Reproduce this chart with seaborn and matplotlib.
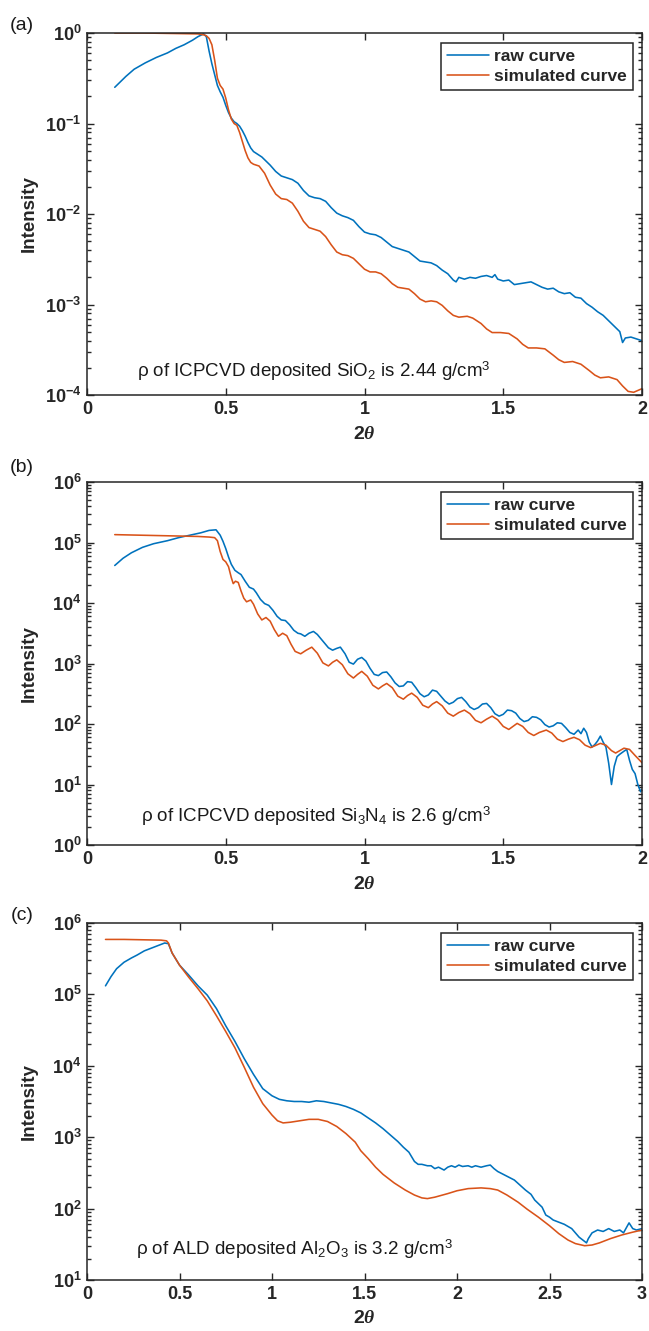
import matplotlib
matplotlib.use("Agg")
import matplotlib.pyplot as plt
from matplotlib.ticker import FixedLocator, FuncFormatter, LogLocator, NullFormatter
import numpy as np
import pandas as pd
import seaborn as sns

# ---- data (2theta, log10 intensity) ----
# (a) ICPCVD SiO2
a_raw_x = [0.10, 0.12, 0.14, 0.17, 0.21, 0.25, 0.29, 0.32, 0.35, 0.38, 0.40, 0.42, 0.43, 0.44,
           0.45, 0.46, 0.47, 0.48, 0.49, 0.50, 0.51, 0.52, 0.53, 0.54, 0.55, 0.56, 0.57, 0.58,
           0.59, 0.60, 0.61, 0.62, 0.63, 0.64, 0.66, 0.68, 0.70, 0.72, 0.74, 0.76, 0.78, 0.80,
           0.82, 0.84, 0.86, 0.88, 0.90, 0.92, 0.94, 0.96, 0.98, 1.00, 1.02, 1.04, 1.06, 1.08,
           1.10, 1.12, 1.14, 1.16, 1.18, 1.20, 1.22, 1.24, 1.26, 1.28, 1.30, 1.32, 1.33, 1.34,
           1.36, 1.38, 1.40, 1.42, 1.44, 1.46, 1.47, 1.48, 1.50, 1.52, 1.54, 1.56, 1.58, 1.60,
           1.62, 1.64, 1.66, 1.68, 1.70, 1.72, 1.74, 1.76, 1.78, 1.80, 1.82, 1.84, 1.86, 1.88,
           1.90, 1.92, 1.93, 1.94, 1.96, 1.98, 2.00]
a_raw_log = [-0.60, -0.54, -0.48, -0.40, -0.33, -0.27, -0.22, -0.17, -0.13, -0.08, -0.04, -0.01, -0.04, -0.20,
             -0.34, -0.46, -0.58, -0.65, -0.71, -0.80, -0.88, -0.94, -0.98, -1.00, -1.03, -1.08, -1.14, -1.21,
             -1.27, -1.31, -1.33, -1.35, -1.37, -1.40, -1.46, -1.53, -1.58, -1.60, -1.62, -1.66, -1.74, -1.80,
             -1.82, -1.83, -1.86, -1.93, -1.99, -2.02, -2.04, -2.07, -2.14, -2.20, -2.22, -2.23, -2.26, -2.31,
             -2.36, -2.38, -2.40, -2.42, -2.47, -2.52, -2.53, -2.54, -2.57, -2.62, -2.66, -2.73, -2.75, -2.70,
             -2.72, -2.70, -2.71, -2.69, -2.68, -2.70, -2.67, -2.72, -2.74, -2.73, -2.78, -2.77, -2.76, -2.75,
             -2.78, -2.81, -2.83, -2.82, -2.86, -2.88, -2.87, -2.92, -2.93, -2.99, -3.03, -3.08, -3.12, -3.18,
             -3.24, -3.30, -3.42, -3.37, -3.36, -3.38, -3.40]
a_sim_x = [0.10, 0.20, 0.30, 0.40, 0.42, 0.43, 0.44, 0.45, 0.46, 0.47, 0.48, 0.49, 0.50, 0.51,
           0.52, 0.53, 0.54, 0.55, 0.56, 0.57, 0.58, 0.59, 0.60, 0.61, 0.62, 0.64, 0.66, 0.68,
           0.70, 0.72, 0.74, 0.76, 0.78, 0.80, 0.82, 0.84, 0.86, 0.88, 0.90, 0.92, 0.94, 0.96,
           0.98, 1.00, 1.02, 1.04, 1.06, 1.08, 1.10, 1.12, 1.14, 1.16, 1.18, 1.20, 1.22, 1.24,
           1.26, 1.28, 1.30, 1.32, 1.34, 1.37, 1.39, 1.42, 1.44, 1.46, 1.49, 1.52, 1.55, 1.57,
           1.59, 1.62, 1.65, 1.68, 1.70, 1.72, 1.75, 1.78, 1.81, 1.83, 1.85, 1.88, 1.91, 1.93,
           1.95, 1.97, 2.00]
a_sim_log = [0.00, 0.00, -0.005, -0.01, -0.02, -0.03, -0.06, -0.13, -0.30, -0.50, -0.58, -0.62, -0.72, -0.85,
             -0.95, -1.00, -1.02, -1.10, -1.20, -1.30, -1.38, -1.43, -1.45, -1.46, -1.47, -1.55, -1.68, -1.78,
             -1.83, -1.84, -1.88, -1.97, -2.08, -2.15, -2.17, -2.19, -2.25, -2.34, -2.42, -2.45, -2.46, -2.49,
             -2.55, -2.61, -2.64, -2.64, -2.66, -2.71, -2.77, -2.81, -2.82, -2.83, -2.88, -2.94, -2.97, -2.96,
             -2.97, -3.01, -3.07, -3.12, -3.14, -3.13, -3.15, -3.21, -3.27, -3.31, -3.31, -3.32, -3.38, -3.44,
             -3.48, -3.48, -3.49, -3.56, -3.61, -3.64, -3.63, -3.66, -3.73, -3.78, -3.81, -3.80, -3.83, -3.90,
             -3.96, -3.97, -3.93]

# (b) ICPCVD Si3N4
b_raw_x = [0.10, 0.13, 0.16, 0.20, 0.24, 0.29, 0.33, 0.37, 0.41, 0.44, 0.465, 0.48, 0.49, 0.50,
           0.51, 0.52, 0.533, 0.545, 0.555, 0.57, 0.585, 0.60, 0.61, 0.625, 0.64, 0.655, 0.67, 0.685,
           0.70, 0.715, 0.73, 0.745, 0.76, 0.77, 0.785, 0.80, 0.816, 0.83, 0.85, 0.87, 0.885, 0.90,
           0.913, 0.93, 0.945, 0.96, 0.975, 0.99, 1.005, 1.02, 1.035, 1.05, 1.065, 1.08, 1.095, 1.11,
           1.125, 1.14, 1.155, 1.17, 1.185, 1.20, 1.215, 1.23, 1.245, 1.26, 1.275, 1.29, 1.305, 1.32,
           1.335, 1.35, 1.365, 1.38, 1.395, 1.41, 1.425, 1.44, 1.455, 1.47, 1.485, 1.50, 1.515, 1.53,
           1.545, 1.56, 1.575, 1.59, 1.605, 1.62, 1.635, 1.65, 1.665, 1.68, 1.695, 1.71, 1.725, 1.74,
           1.755, 1.77, 1.78, 1.79, 1.80, 1.81, 1.82, 1.83, 1.84, 1.85, 1.86, 1.87, 1.88, 1.89,
           1.90, 1.91, 1.92, 1.935, 1.945, 1.955, 1.965, 1.975, 1.985, 1.995, 2.00]
b_raw_log = [4.62, 4.74, 4.83, 4.92, 4.98, 5.03, 5.08, 5.12, 5.16, 5.20, 5.21, 5.12, 5.02, 4.90,
             4.76, 4.64, 4.54, 4.50, 4.47, 4.36, 4.26, 4.23, 4.17, 4.06, 3.99, 3.96, 3.88, 3.78,
             3.72, 3.71, 3.64, 3.55, 3.50, 3.49, 3.45, 3.50, 3.53, 3.48, 3.37, 3.26, 3.22, 3.25,
             3.27, 3.16, 3.02, 2.99, 3.07, 3.10, 3.04, 2.92, 2.82, 2.80, 2.85, 2.86, 2.78, 2.68,
             2.62, 2.63, 2.70, 2.69, 2.60, 2.50, 2.45, 2.48, 2.56, 2.54, 2.46, 2.38, 2.33, 2.36,
             2.42, 2.44, 2.37, 2.28, 2.24, 2.27, 2.33, 2.34, 2.27, 2.17, 2.13, 2.16, 2.23, 2.22,
             2.18, 2.09, 2.04, 2.06, 2.12, 2.11, 2.07, 1.99, 1.95, 1.97, 2.02, 2.01, 1.94, 1.86,
             1.83, 1.90, 1.84, 1.93, 1.86, 1.70, 1.62, 1.66, 1.72, 1.80, 1.70, 1.62, 1.35, 1.00,
             1.30, 1.46, 1.50, 1.55, 1.58, 1.40, 1.25, 1.18, 1.00, 0.88, 0.92]
b_sim_x = [0.10, 0.20, 0.30, 0.40, 0.44, 0.46, 0.47, 0.48, 0.49, 0.50, 0.51, 0.52, 0.527, 0.535,
           0.545, 0.555, 0.565, 0.575, 0.59, 0.60, 0.615, 0.63, 0.645, 0.66, 0.675, 0.69, 0.705, 0.72,
           0.735, 0.75, 0.77, 0.79, 0.81, 0.83, 0.85, 0.87, 0.885, 0.90, 0.92, 0.94, 0.96, 0.975,
           0.99, 1.01, 1.03, 1.05, 1.065, 1.08, 1.10, 1.12, 1.14, 1.155, 1.17, 1.19, 1.21, 1.23,
           1.245, 1.26, 1.28, 1.30, 1.32, 1.34, 1.36, 1.38, 1.40, 1.42, 1.44, 1.46, 1.48, 1.50,
           1.52, 1.535, 1.55, 1.57, 1.59, 1.61, 1.63, 1.655, 1.675, 1.695, 1.715, 1.735, 1.755, 1.775,
           1.795, 1.815, 1.83, 1.85, 1.87, 1.89, 1.905, 1.92, 1.935, 1.955, 1.975, 2.00]
b_sim_log = [5.13, 5.12, 5.11, 5.10, 5.09, 5.08, 5.03, 4.85, 4.72, 4.68, 4.60, 4.42, 4.32, 4.36,
             4.34, 4.20, 4.08, 4.02, 4.05, 3.98, 3.82, 3.72, 3.76, 3.70, 3.56, 3.45, 3.50, 3.46,
             3.32, 3.20, 3.16, 3.22, 3.27, 3.17, 3.01, 2.96, 3.02, 3.06, 2.98, 2.83, 2.76, 2.82,
             2.87, 2.79, 2.64, 2.58, 2.63, 2.67, 2.60, 2.46, 2.41, 2.47, 2.51, 2.44, 2.31, 2.27,
             2.33, 2.37, 2.30, 2.18, 2.13, 2.19, 2.23, 2.17, 2.06, 2.02, 2.08, 2.13, 2.07, 1.96,
             1.91, 1.96, 2.01, 1.96, 1.86, 1.81, 1.86, 1.90, 1.85, 1.75, 1.71, 1.75, 1.78, 1.74,
             1.65, 1.61, 1.64, 1.68, 1.65, 1.56, 1.52, 1.56, 1.60, 1.58, 1.48, 1.36]

# (c) ALD Al2O3
c_raw_x = [0.10, 0.13, 0.16, 0.20, 0.24, 0.27, 0.31, 0.36, 0.40, 0.42, 0.44, 0.46, 0.50, 0.55,
           0.60, 0.65, 0.70, 0.75, 0.80, 0.85, 0.90, 0.95, 1.00, 1.04, 1.08, 1.12, 1.16, 1.20,
           1.24, 1.28, 1.32, 1.36, 1.40, 1.44, 1.48, 1.52, 1.56, 1.60, 1.64, 1.68, 1.71, 1.74,
           1.77, 1.79, 1.81, 1.84, 1.86, 1.88, 1.90, 1.93, 1.95, 1.97, 1.99, 2.01, 2.03, 2.06,
           2.08, 2.10, 2.13, 2.16, 2.18, 2.20, 2.22, 2.25, 2.28, 2.31, 2.34, 2.37, 2.40, 2.42,
           2.44, 2.46, 2.48, 2.50, 2.52, 2.55, 2.58, 2.60, 2.62, 2.64, 2.66, 2.68, 2.70, 2.71,
           2.73, 2.76, 2.79, 2.82, 2.85, 2.88, 2.90, 2.93, 2.95, 2.97, 3.00]
c_raw_log = [5.12, 5.25, 5.36, 5.45, 5.51, 5.55, 5.61, 5.66, 5.70, 5.72, 5.71, 5.58, 5.41, 5.27,
             5.12, 4.99, 4.80, 4.56, 4.34, 4.10, 3.88, 3.68, 3.58, 3.53, 3.51, 3.50, 3.50, 3.49,
             3.51, 3.50, 3.48, 3.46, 3.43, 3.39, 3.34, 3.27, 3.20, 3.12, 3.03, 2.94, 2.86, 2.79,
             2.66, 2.62, 2.62, 2.60, 2.60, 2.56, 2.58, 2.54, 2.58, 2.60, 2.58, 2.61, 2.59, 2.60,
             2.58, 2.60, 2.58, 2.60, 2.61, 2.56, 2.52, 2.48, 2.44, 2.40, 2.33, 2.26, 2.20, 2.12,
             2.07, 2.02, 1.91, 1.88, 1.84, 1.81, 1.78, 1.75, 1.72, 1.66, 1.60, 1.56, 1.52, 1.58,
             1.66, 1.70, 1.68, 1.72, 1.68, 1.70, 1.66, 1.80, 1.72, 1.70, 1.72]
c_sim_x = [0.10, 0.20, 0.30, 0.40, 0.43, 0.44, 0.46, 0.50, 0.55, 0.60, 0.65, 0.70, 0.75, 0.80,
           0.85, 0.90, 0.95, 1.00, 1.03, 1.06, 1.10, 1.15, 1.20, 1.25, 1.30, 1.35, 1.40, 1.45,
           1.48, 1.52, 1.56, 1.60, 1.66, 1.72, 1.77, 1.81, 1.84, 1.88, 1.95, 2.00, 2.06, 2.13,
           2.18, 2.22, 2.27, 2.33, 2.38, 2.44, 2.50, 2.55, 2.60, 2.64, 2.69, 2.73, 2.77, 2.83,
           2.89, 2.95, 3.00]
c_sim_log = [5.77, 5.77, 5.765, 5.76, 5.75, 5.72, 5.58, 5.41, 5.24, 5.08, 4.91, 4.70, 4.48, 4.25,
             3.98, 3.70, 3.47, 3.31, 3.23, 3.20, 3.21, 3.23, 3.25, 3.25, 3.22, 3.15, 3.05, 2.93,
             2.81, 2.70, 2.58, 2.48, 2.36, 2.26, 2.19, 2.15, 2.14, 2.16, 2.21, 2.25, 2.28, 2.29,
             2.28, 2.26, 2.19, 2.09, 1.99, 1.88, 1.76, 1.65, 1.56, 1.51, 1.48, 1.49, 1.52, 1.58,
             1.63, 1.67, 1.70]

curve_names = ["raw curve", "simulated curve"]
palette = {"raw curve": "#0072BD", "simulated curve": "#D95319"}


def panel_frame(raw_x, raw_log, sim_x, sim_log):
    raw = pd.DataFrame({"two_theta": raw_x, "intensity": np.power(10.0, raw_log), "curve": curve_names[0]})
    sim = pd.DataFrame({"two_theta": sim_x, "intensity": np.power(10.0, sim_log), "curve": curve_names[1]})
    return pd.concat([raw, sim], ignore_index=True)


sns.set_style("ticks")
plt.rcParams["font.family"] = ["Liberation Sans", "DejaVu Sans"]
plt.rcParams["font.weight"] = "bold"
plt.rcParams["mathtext.fontset"] = "custom"
plt.rcParams["mathtext.rm"] = "Liberation Sans"
plt.rcParams["mathtext.bf"] = "Liberation Sans:bold"
plt.rcParams["mathtext.it"] = "Liberation Serif:italic:bold"

W, H = 649, 1331
fig = plt.figure(figsize=(W / 100, H / 100), dpi=100)

panels = [
    dict(df=panel_frame(a_raw_x, a_raw_log, a_sim_x, a_sim_log), top=33, bottom=395,
         xmax=2, ylog=(-4, 0), tag="(a)", tag_y=25,
         note=r"ρ of ICPCVD deposited SiO$_\mathregular{2}$ is 2.44 g/cm$^\mathregular{3}$", note_x=0.09, note_y=0.065),
    dict(df=panel_frame(b_raw_x, b_raw_log, b_sim_x, b_sim_log), top=482, bottom=845,
         xmax=2, ylog=(0, 6), tag="(b)", tag_y=468,
         note=r"ρ of ICPCVD deposited Si$_\mathregular{3}$N$_\mathregular{4}$ is 2.6 g/cm$^\mathregular{3}$", note_x=0.097, note_y=0.078),
    dict(df=panel_frame(c_raw_x, c_raw_log, c_sim_x, c_sim_log), top=923, bottom=1280,
         xmax=3, ylog=(1, 6), tag="(c)", tag_y=915,
         note=r"ρ of ALD deposited Al$_\mathregular{2}$O$_\mathregular{3}$ is 3.2 g/cm$^\mathregular{3}$", note_x=0.088, note_y=0.085),
]

left, right = 87, 642
for p in panels:
    ax = fig.add_axes([left / W, 1 - p["bottom"] / H, (right - left) / W, (p["bottom"] - p["top"]) / H])
    sns.lineplot(data=p["df"], x="two_theta", y="intensity", hue="curve", palette=palette,
                 estimator=None, sort=False, linewidth=1.15, legend=False, ax=ax)
    ax.set_yscale("log")
    lo, hi = p["ylog"]
    ax.set_xlim(0, p["xmax"])
    ax.set_ylim(10.0 ** lo, 10.0 ** hi)

    ax.xaxis.set_major_locator(FixedLocator(np.arange(0, p["xmax"] + 0.01, 0.5)))
    ax.xaxis.set_major_formatter(FuncFormatter(lambda v, pos: "%g" % v))
    ax.yaxis.set_major_locator(FixedLocator([10.0 ** k for k in range(lo, hi + 1)]))
    ax.yaxis.set_major_formatter(FuncFormatter(lambda v, pos: r"$\mathbf{10^{%d}}$" % round(np.log10(v))))
    ax.yaxis.set_minor_locator(LogLocator(base=10, subs=np.arange(2, 10), numticks=20))
    ax.yaxis.set_minor_formatter(NullFormatter())
    ax.tick_params(which="both", direction="in", top=True, right=True, color="#262626",
                   labelsize=13, labelcolor="#262626", width=1.0)
    ax.tick_params(which="major", length=5, pad=4)
    ax.tick_params(which="minor", length=3)
    for s in ax.spines.values():
        s.set_linewidth(1.1)
        s.set_color("#262626")

    ax.set_xlabel(r"$\mathbf{2}\theta$", fontsize=14, color="#262626")
    ax.set_ylabel("Intensity", fontsize=13.5, fontweight="bold", color="#262626")
    ax.xaxis.set_label_coords(0.5, -0.085)
    ax.yaxis.set_label_coords(-0.088, 0.5)

    leg = ax.legend(ax.lines[:2], curve_names, loc="upper right",
                    bbox_to_anchor=(1 - 9 / (right - left), 1 - 10 / (p["bottom"] - p["top"])),
                    borderaxespad=0, frameon=True, fancybox=False, edgecolor="#262626", framealpha=1,
                    prop={"weight": "bold", "size": 12.5}, handlelength=2.4, handletextpad=0.3,
                    labelspacing=0.25, borderpad=0.35)
    leg.get_frame().set_linewidth(1.1)

    ax.text(p["note_x"], p["note_y"], p["note"], transform=ax.transAxes, fontsize=13.5,
            fontweight="normal", va="center", ha="left", color="#1a1a1a")
    fig.text(22 / W, 1 - p["tag_y"] / H, p["tag"], fontsize=14, fontweight="normal",
             ha="center", va="center", color="#1a1a1a")

fig.savefig("out.png", dpi=100)
